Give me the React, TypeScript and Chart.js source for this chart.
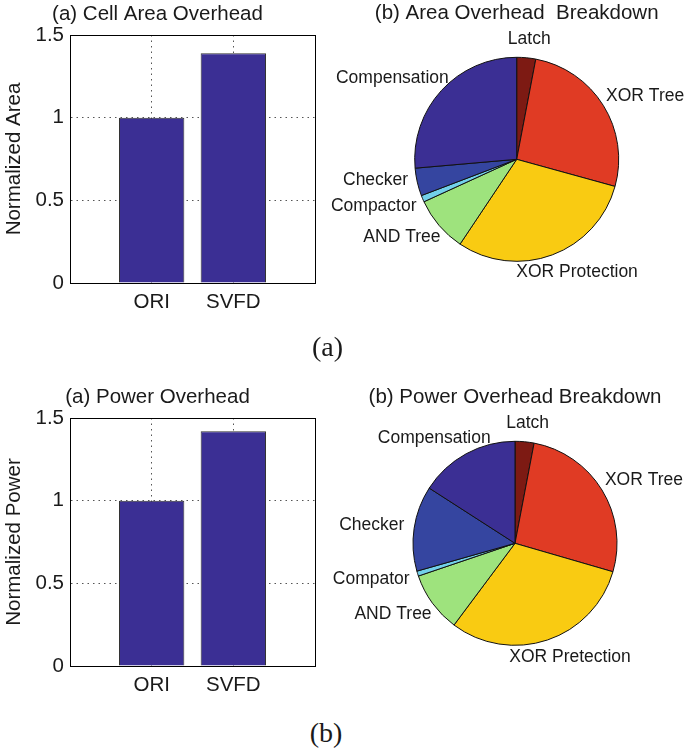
import React, { useEffect, useRef } from "react";
import { Chart, registerables } from "chart.js";

Chart.register(...registerables);

// ---------- data ----------
const barCategories = ["", "ORI", "SVFD", ""];
const areaValues = [null, 1, 1.39, null];
const powerValues = [null, 1, 1.42, null];
const yTickValues = [0, 0.5, 1, 1.5];

const areaSliceLabels = ["Latch", "XOR Tree", "XOR Protection", "AND Tree", "Compactor", "Checker", "Compensation"];
const areaSliceShares = [3.0, 26.3, 30.1, 8.8, 1.05, 4.4, 26.4];

const powerSliceLabels = ["Latch", "XOR Tree", "XOR Pretection", "AND Tree", "Compator", "Checker", "Compensation"];
const powerSliceShares = [3.0, 26.5, 30.7, 9.6, 0.8, 13.5, 15.9];

const sliceColors = ["#7d1a13", "#e03b24", "#f9cb12", "#9ee37d", "#72d0ea", "#3545a0", "#3b2f94"];
const barColor = "#3b2f94";

const FONT = "'Liberation Sans', Arial, Helvetica, sans-serif";
const TEXT = "#1a1a1a";

// ---------- plugins ----------
const boxPlugin = {
  id: "box",
  afterDraw(chart: any) {
    const { ctx, chartArea: a } = chart;
    ctx.save();
    ctx.strokeStyle = "#000";
    ctx.lineWidth = 1;
    ctx.strokeRect(Math.round(a.left) + 0.5, Math.round(a.top) + 0.5, Math.round(a.right - a.left), Math.round(a.bottom - a.top));
    ctx.restore();
  },
};

const pieDecorPlugin = {
  id: "pieDecor",
  afterDraw(chart: any, _args: any, opts: any) {
    const { ctx } = chart;
    const meta = chart.getDatasetMeta(0);
    const labels: string[] = chart.data.labels;
    ctx.save();
    ctx.fillStyle = TEXT;
    ctx.textAlign = "center";
    ctx.textBaseline = "middle";
    let cx = 0, cy = 0, r = 0;
    ctx.font = `17.5px ${FONT}`;
    const items: { text: string; x: number; y: number; side: number }[] = [];
    meta.data.forEach((arc: any, i: number) => {
      const p = arc.getProps(["x", "y", "startAngle", "endAngle", "outerRadius"], true);
      cx = p.x; cy = p.y; r = p.outerRadius;
      const mid = (p.startAngle + p.endAngle) / 2;
      const dx = Math.cos(mid), dy = Math.sin(mid);
      const ax = p.x + dx * r * 1.1;
      const ay = p.y + dy * r * 1.1;
      const w = ctx.measureText(labels[i]).width;
      const h = 16;
      items.push({ text: labels[i], x: ax + (dx * w) / 2, y: ay + (dy * h) / 2, side: dx < 0 ? -1 : 1 });
    });
    // keep labels on the same side apart vertically
    const minGap = 26;
    [-1, 1].forEach((side) => {
      const group = items.filter((it) => it.side === side).sort((a, b) => b.y - a.y);
      for (let k = 1; k < group.length; k++) {
        if (group[k - 1].y - group[k].y < minGap && Math.abs(group[k - 1].x - group[k].x) < 120) {
          group[k].y = group[k - 1].y - minGap;
        }
      }
    });
    items.forEach((it) => ctx.fillText(it.text, it.x, it.y));
    ctx.font = `20.5px ${FONT}`;
    ctx.fillText(opts.title, cx, cy - r - 44);
    ctx.restore();
  },
};

// ---------- components ----------
function BarPanel({ top, title, yTitle, values }: { top: number; title: string; yTitle: string; values: (number | null)[] }) {
  const ref = useRef<HTMLCanvasElement>(null);
  useEffect(() => {
    const chart = new Chart(ref.current!, {
      type: "bar",
      data: {
        labels: barCategories,
        datasets: [
          {
            data: values,
            backgroundColor: barColor,
            borderColor: "#333",
            borderWidth: 1,
            barPercentage: 0.8,
            categoryPercentage: 1,
          },
        ],
      },
      options: {
        animation: false,
        responsive: false,
        devicePixelRatio: 1,
        layout: { padding: { left: 0, right: 25, top: 0, bottom: 0 } },
        plugins: {
          legend: { display: false },
          tooltip: { enabled: false },
          title: {
            display: true,
            text: title,
            color: TEXT,
            font: { family: FONT, size: 20.5, weight: "normal" },
            padding: { top: 2, bottom: 8.4 },
          },
        },
        scales: {
          x: {
            type: "category",
            offset: false,
            grid: { offset: false, color: "#555", lineWidth: 1, drawTicks: false } as any,
            border: { display: true, color: "#000", dash: [1.5, 4] } as any,
            ticks: { color: TEXT, font: { family: FONT, size: 20.5 }, padding: 7, autoSkip: false, maxRotation: 0 },
            afterFit: (s: any) => { s.height = 37; },
          },
          y: {
            min: 0,
            max: 1.5,
            grid: { color: "#555", lineWidth: 1, drawTicks: false } as any,
            border: { display: true, color: "#000", dash: [1.5, 4] } as any,
            ticks: {
              color: TEXT,
              font: { family: FONT, size: 20.5 },
              padding: 6,
              callback: (v: any) => String(v),
            },
            afterBuildTicks: (s: any) => { s.ticks = yTickValues.map((v) => ({ value: v })); },
            title: {
              display: true,
              text: yTitle,
              color: TEXT,
              font: { family: FONT, size: 20.5 },
              padding: { top: 2.4, bottom: 0 },
            },
            afterFit: (s: any) => { s.width = 70; },
          },
        },
      },
      plugins: [boxPlugin],
    } as any);
    return () => chart.destroy();
  }, []);
  return (
    <canvas
      ref={ref}
      width={340}
      height={320}
      style={{ position: "absolute", left: 0, top, width: 340, height: 320 }}
    />
  );
}

function PiePanel({ top, title, labels, shares, pad }: { top: number; title: string; labels: string[]; shares: number[]; pad: any }) {
  const ref = useRef<HTMLCanvasElement>(null);
  useEffect(() => {
    const chart = new Chart(ref.current!, {
      type: "pie",
      data: {
        labels,
        datasets: [
          {
            data: shares,
            backgroundColor: sliceColors,
            borderColor: "#111",
            borderWidth: 1,
          },
        ],
      },
      options: {
        animation: false,
        responsive: false,
        devicePixelRatio: 1,
        radius: 102,
        layout: { padding: pad },
        plugins: {
          legend: { display: false },
          tooltip: { enabled: false },
          pieDecor: { title },
        },
      },
      plugins: [pieDecorPlugin],
    } as any);
    return () => chart.destroy();
  }, []);
  return (
    <canvas
      ref={ref}
      width={389}
      height={340}
      style={{ position: "absolute", left: 300, top, width: 389, height: 340 }}
    />
  );
}

export default function App() {
  const caption = {
    position: "absolute" as const,
    width: 100,
    textAlign: "center" as const,
    fontFamily: "'Liberation Serif', 'Times New Roman', serif",
    fontSize: 28,
    lineHeight: "32px",
    color: TEXT,
  };
  return (
    <div style={{ position: "absolute", left: 0, top: 0, width: 689, height: 749, background: "#fff", overflow: "hidden" }}>
      <BarPanel top={0} title="(a) Cell Area Overhead" yTitle="Normalized Area" values={areaValues} />
      <PiePanel top={0} title="(b) Area Overhead  Breakdown" labels={areaSliceLabels} shares={areaSliceShares} pad={{ left: 44.4, right: 0, top: 0, bottom: 21.4 }} />
      <BarPanel top={383} title="(a) Power Overhead" yTitle="Normalized Power" values={powerValues} />
      <PiePanel top={370} title="(b) Power Overhead Breakdown" labels={powerSliceLabels} shares={powerSliceShares} pad={{ left: 41, right: 0, top: 6.6, bottom: 0 }} />
      <div style={{ ...caption, left: 277.5, top: 331 }}>(a)</div>
      <div style={{ ...caption, left: 276, top: 717 }}>(b)</div>
    </div>
  );
}
